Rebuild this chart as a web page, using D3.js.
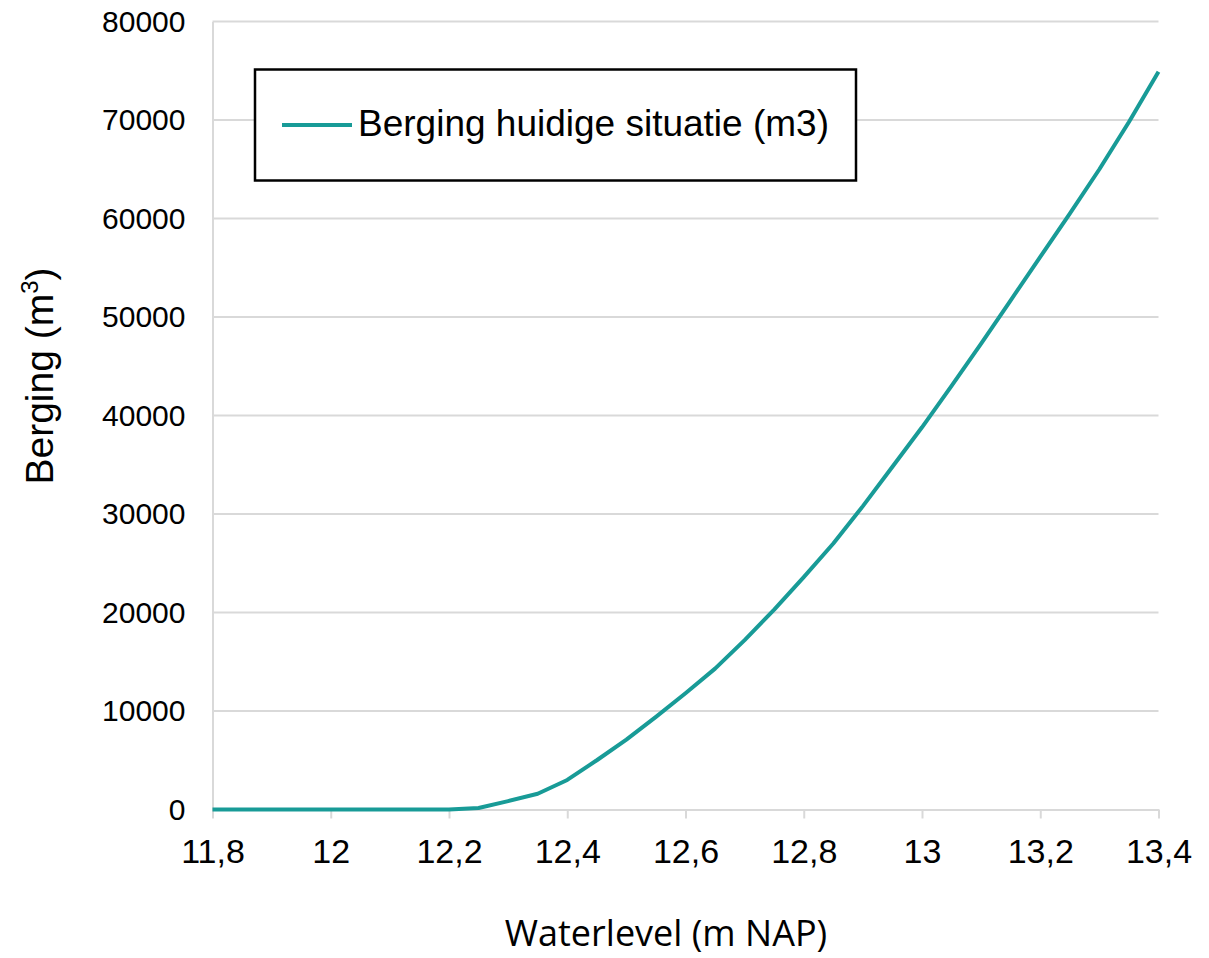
<!DOCTYPE html>
<html><head><meta charset="utf-8">
<script src="https://cdn.jsdelivr.net/npm/d3@7"></script>
<style>html,body{margin:0;padding:0;background:#fff;}svg{display:block;}</style>
</head><body>
<svg id="c" width="1209" height="958"></svg>
<script>
const waterlevel = [11.8,11.85,11.9,11.95,12.0,12.05,12.1,12.15,12.2,12.25,12.3,12.35,12.4,12.45,12.5,12.55,12.6,12.65,12.7,12.75,12.8,12.85,12.9,12.95,13.0,13.05,13.1,13.15,13.2,13.25,13.3,13.35,13.4];
const berging = [0,0,0,0,0,0,0,0,0,150,850,1600,3000,5000,7100,9400,11800,14300,17200,20300,23600,27000,30800,34800,38800,43000,47300,51700,56100,60500,65000,69800,74900];
const xTicks = [11.8,12.0,12.2,12.4,12.6,12.8,13.0,13.2,13.4];
const yTicks = [0,10000,20000,30000,40000,50000,60000,70000,80000];
const seriesName = "Berging huidige situatie (m3)";
const xTitle = "Waterlevel (m NAP)";

const svg = d3.select("#c");
const L = 212.5, R = 1158.5, T = 21.5, B = 809.5;
const x = d3.scaleLinear().domain([11.8,13.4]).range([L,R]);
const y = d3.scaleLinear().domain([0,80000]).range([B,T]);
const fmtX = d => d3.format(".1f")(d).replace(/\.0$/,"").replace(".",",");
const teal = "#189b97";
const arial = "Liberation Sans, Arial, sans-serif";

// gridlines
svg.append("g").selectAll("line").data(yTicks.filter(d=>d>0)).join("line")
  .attr("x1",L).attr("x2",R).attr("y1",d=>y(d)).attr("y2",d=>y(d))
  .attr("stroke","#d9d9d9").attr("stroke-width",2);

// y axis
const ya = svg.append("g").attr("transform",`translate(${L},0)`)
  .call(d3.axisLeft(y).tickValues(yTicks).tickSize(0).tickPadding(27).tickFormat(d=>String(d)));
ya.select(".domain").attr("stroke","#d9d9d9").attr("stroke-width",2);
ya.selectAll("text").attr("font-family",arial).attr("font-size",30).attr("fill","#000");

// x axis
const xa = svg.append("g").attr("transform",`translate(0,${B})`)
  .call(d3.axisBottom(x).tickValues(xTicks).tickSizeInner(9).tickSizeOuter(0).tickPadding(20).tickFormat(fmtX));
xa.select(".domain").attr("stroke","#d9d9d9").attr("stroke-width",2);
xa.selectAll(".tick line").attr("stroke","#d9d9d9").attr("stroke-width",2);
xa.selectAll("text").attr("font-family",arial).attr("font-size",34).attr("fill","#000").attr("dy","0.71em");

// line
const data = waterlevel.map((w,i)=>({w, v: berging[i]}));
svg.append("path").datum(data)
  .attr("fill","none").attr("stroke",teal).attr("stroke-width",4).attr("stroke-linejoin","round")
  .attr("d", d3.line().x(d=>x(d.w)).y(d=>y(d.v)));

// legend
const lg = svg.append("g");
lg.append("rect").attr("x",255).attr("y",69.5).attr("width",601).attr("height",111)
  .attr("fill","#fff").attr("stroke","#000").attr("stroke-width",2.5);
lg.append("line").attr("x1",282).attr("x2",352).attr("y1",125).attr("y2",125)
  .attr("stroke",teal).attr("stroke-width",4);
lg.append("text").attr("x",358).attr("y",136).text(seriesName)
  .attr("font-family",arial).attr("font-size",37).attr("fill","#000");

// y title
const yt = svg.append("text").attr("transform","translate(53,376) rotate(-90)")
  .attr("text-anchor","middle").attr("font-family",arial).attr("font-size",39).attr("fill","#000");
yt.append("tspan").text("Berging (m");
yt.append("tspan").text("3").attr("font-size",24).attr("dy",-15);
yt.append("tspan").text(")").attr("dy",15);

// x title
svg.append("text").attr("x",666).attr("y",946).attr("text-anchor","middle")
  .attr("font-family","Open Sans, sans-serif").attr("font-size",36).attr("fill","#000").text(xTitle);
</script>
</body></html>
